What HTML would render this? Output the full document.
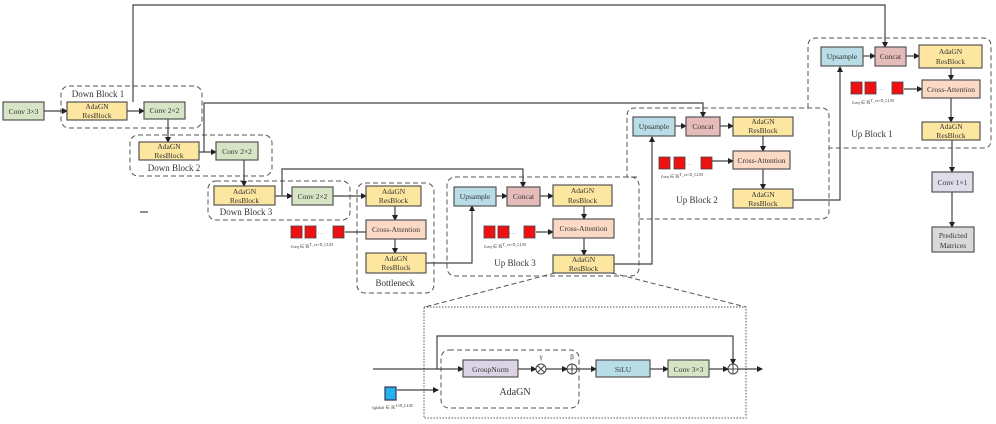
<!DOCTYPE html>
<html><head><meta charset="utf-8"><style>
html,body{margin:0;padding:0;background:#fff}
svg{display:block}
text{font-family:"Liberation Serif",serif;fill:#333}
</style></head><body>
<svg width="996" height="424" viewBox="0 0 996 424" xmlns="http://www.w3.org/2000/svg">
<defs>
<marker id="a" markerWidth="6" markerHeight="6" refX="5" refY="3" orient="auto" markerUnits="userSpaceOnUse"><path d="M0,0 L6,3 L0,6 z" fill="#222"/></marker>
</defs>
<g fill="none" stroke="#555" stroke-width="1" stroke-dasharray="5,3">
<rect x="61" y="86" width="141" height="42" rx="8"/>
<rect x="130" y="135" width="142" height="41" rx="8"/>
<rect x="208" y="181" width="142" height="39" rx="8"/>
<rect x="357" y="183" width="77" height="110" rx="8"/>
<rect x="447" y="177" width="192" height="99" rx="8"/>
<path d="M637,177 L627,177 L627,116 Q627,108 635,108 L821,108 Q829,108 829,116 L829,211 Q829,219 821,219 L639,219"/>
<path d="M808,108 L808,46 Q808,38 816,38 L983,38 Q991,38 991,46 L991,140 Q991,148 983,148 L829,148"/>
<rect x="441" y="350" width="138" height="58" rx="8"/>
<path d="M555,273 L425,307 M612,273 L746,307"/>
</g>
<rect x="424" y="307" width="322" height="111" fill="none" stroke="#555" stroke-dasharray="1.5,1.5"/>
<g stroke="#444" stroke-width="1.2" fill="none">
<path d="M44,111 L67,111" marker-end="url(#a)"/>
<path d="M127,111 L144,111" marker-end="url(#a)"/>
<path d="M133,102 L133,5 L885,5 L885,47" marker-end="url(#a)"/>
<path d="M168,119 L168,142" marker-end="url(#a)"/>
<path d="M199,152 L216,152" marker-end="url(#a)"/>
<path d="M204,152 L204,103 L703,103 L703,117" marker-end="url(#a)"/>
<path d="M244,160 L244,186" marker-end="url(#a)"/>
<path d="M275,196 L292,196" marker-end="url(#a)"/>
<path d="M282,196 L282,169 L523,169 L523,187" marker-end="url(#a)"/>
<path d="M333,196 L366,196" marker-end="url(#a)"/>
<path d="M395,206 L395,220" marker-end="url(#a)"/>
<path d="M345,232 L366,232"/>
<path d="M395,239 L395,253" marker-end="url(#a)"/>
<path d="M426,263 L472,263 L472,206" marker-end="url(#a)"/>
<path d="M496,196 L507,196" marker-end="url(#a)"/>
<path d="M540,196 L553,196" marker-end="url(#a)"/>
<path d="M584,206 L584,219" marker-end="url(#a)"/>
<path d="M536,232 L553,232" marker-end="url(#a)"/>
<path d="M584,238 L584,255" marker-end="url(#a)"/>
<path d="M614,264 L652,264 L652,137" marker-end="url(#a)"/>
<path d="M675,126 L686,126" marker-end="url(#a)"/>
<path d="M720,126 L733,126" marker-end="url(#a)"/>
<path d="M763,136 L763,151" marker-end="url(#a)"/>
<path d="M712,161 L733,161" marker-end="url(#a)"/>
<path d="M763,169 L763,189" marker-end="url(#a)"/>
<path d="M793,200 L840,200 L840,67" marker-end="url(#a)"/>
<path d="M863,56 L875,56" marker-end="url(#a)"/>
<path d="M906,56 L919,56" marker-end="url(#a)"/>
<path d="M951,68 L951,80" marker-end="url(#a)"/>
<path d="M904,89 L922,89" marker-end="url(#a)"/>
<path d="M951,98 L951,122" marker-end="url(#a)"/>
<path d="M952,140 L952,172" marker-end="url(#a)"/>
<path d="M952,192 L952,227" marker-end="url(#a)"/>
<path d="M373,369 L463,369" marker-end="url(#a)"/>
<path d="M437,369 L437,336 L733,336 L733,364" marker-end="url(#a)"/>
<path d="M518,369 L536,369" marker-end="url(#a)"/>
<path d="M546,369 L567,369" marker-end="url(#a)"/>
<path d="M577,369 L596,369" marker-end="url(#a)"/>
<path d="M650,369 L668,369" marker-end="url(#a)"/>
<path d="M709,369 L728,369" marker-end="url(#a)"/>
<path d="M738,369 L762,369" marker-end="url(#a)"/>
<path d="M397,390 L438,390" marker-end="url(#a)"/>
<path d="M140,212 L148,212"/>
</g>
<g stroke="#444" stroke-width="1" fill="#fff">
<circle cx="541" cy="369" r="5"/><path d="M537.5,365.5 L544.5,372.5 M544.5,365.5 L537.5,372.5"/>
<circle cx="572" cy="369" r="5"/><path d="M567,369 L577,369 M572,364 L572,374"/>
<circle cx="733" cy="369" r="5"/><path d="M728,369 L738,369 M733,364 L733,374"/>
</g>
<g stroke="#555" stroke-width="1.2" font-size="8">
<rect x="3" y="102" width="41" height="18" fill="#d7e4c5"/>
<rect x="67" y="102" width="60" height="18" fill="#fde6a0"/>
<rect x="144" y="102" width="41" height="17" fill="#d7e4c5"/>
<rect x="139" y="142" width="60" height="18" fill="#fde6a0"/>
<rect x="216" y="142" width="42" height="18" fill="#d7e4c5"/>
<rect x="214" y="186" width="61" height="19" fill="#fde6a0"/>
<rect x="292" y="187" width="41" height="18" fill="#d7e4c5"/>
<rect x="366" y="186" width="55" height="20" fill="#fde6a0"/>
<rect x="366" y="220" width="60" height="19" fill="#fcd9c4"/>
<rect x="366" y="253" width="60" height="20" fill="#fde6a0"/>
<rect x="454" y="187" width="42" height="19" fill="#b9dde7"/>
<rect x="507" y="187" width="33" height="19" fill="#e6bcbb"/>
<rect x="553" y="185" width="59" height="21" fill="#fde6a0"/>
<rect x="553" y="219" width="61" height="19" fill="#fcd9c4"/>
<rect x="553" y="255" width="61" height="18" fill="#fde6a0"/>
<rect x="633" y="117" width="42" height="19" fill="#b9dde7"/>
<rect x="686" y="117" width="34" height="19" fill="#e6bcbb"/>
<rect x="733" y="117" width="60" height="19" fill="#fde6a0"/>
<rect x="733" y="151" width="57" height="18" fill="#fcd9c4"/>
<rect x="733" y="189" width="60" height="19" fill="#fde6a0"/>
<rect x="821" y="47" width="42" height="19" fill="#b9dde7"/>
<rect x="875" y="47" width="31" height="19" fill="#e6bcbb"/>
<rect x="919" y="45" width="63" height="23" fill="#fde6a0"/>
<rect x="922" y="80" width="58" height="18" fill="#fcd9c4"/>
<rect x="922" y="122" width="58" height="18" fill="#fde6a0"/>
<rect x="932" y="172" width="41" height="20" fill="#e0dcea"/>
<rect x="932" y="227" width="42" height="25" fill="#d9d9d9"/>
<rect x="463" y="360" width="55" height="17" fill="#ddd3e6"/>
<rect x="596" y="360" width="54" height="17" fill="#b9dde7"/>
<rect x="668" y="360" width="41" height="17" fill="#d7e4c5"/>
<rect x="385" y="387" width="11" height="13" fill="#22b2ee" stroke="#335"/>
</g>
<g fill="#ee1111" stroke="#444" stroke-width="0.8">
<rect x="291" y="226" width="11" height="12"/><rect x="305" y="226" width="11" height="12"/><rect x="333" y="226" width="11" height="12"/>
<rect x="484" y="226" width="11" height="12"/><rect x="498" y="226" width="11" height="12"/><rect x="524" y="226" width="11" height="12"/>
<rect x="659" y="157" width="11" height="12"/><rect x="674" y="157" width="11" height="12"/><rect x="701" y="157" width="11" height="12"/>
<rect x="851" y="82" width="11" height="12"/><rect x="865" y="82" width="11" height="12"/><rect x="892" y="82" width="11" height="12"/>
</g>
<g font-size="7.5" text-anchor="middle">
<text x="23.5" y="114">Conv 3×3</text>
<text x="97" y="109">AdaGN</text><text x="97" y="118">ResBlock</text>
<text x="164.5" y="113">Conv 2×2</text>
<text x="169" y="149">AdaGN</text><text x="169" y="158">ResBlock</text>
<text x="237" y="154">Conv 2×2</text>
<text x="244.5" y="194">AdaGN</text><text x="244.5" y="203">ResBlock</text>
<text x="312.5" y="199">Conv 2×2</text>
<text x="393.5" y="194">AdaGN</text><text x="393.5" y="203">ResBlock</text>
<text x="396" y="232">Cross-Attention</text>
<text x="396" y="261">AdaGN</text><text x="396" y="270">ResBlock</text>
<text x="475" y="199">Upsample</text>
<text x="523.5" y="199">Concat</text>
<text x="582.5" y="193">AdaGN</text><text x="582.5" y="203">ResBlock</text>
<text x="583.5" y="231">Cross-Attention</text>
<text x="583.5" y="262">AdaGN</text><text x="583.5" y="271">ResBlock</text>
<text x="654" y="129">Upsample</text>
<text x="703" y="129">Concat</text>
<text x="763" y="124">AdaGN</text><text x="763" y="133">ResBlock</text>
<text x="761.5" y="163">Cross-Attention</text>
<text x="763" y="197">AdaGN</text><text x="763" y="206">ResBlock</text>
<text x="842" y="59">Upsample</text>
<text x="890.5" y="59">Concat</text>
<text x="950.5" y="54">AdaGN</text><text x="950.5" y="64">ResBlock</text>
<text x="951" y="92">Cross-Attention</text>
<text x="951" y="129">AdaGN</text><text x="951" y="138">ResBlock</text>
<text x="952.5" y="185">Conv 1×1</text>
<text x="953" y="238">Predicted</text><text x="953" y="248">Matrices</text>
<text x="490.5" y="372">GroupNorm</text>
<text x="623" y="372">SiLU</text>
<text x="688.5" y="372">Conv 3×3</text>
</g>
<g font-size="9" text-anchor="middle">
<text x="98" y="97">Down Block 1</text>
<text x="174" y="171">Down Block 2</text>
<text x="246" y="215">Down Block 3</text>
<text x="395" y="286">Bottleneck</text>
<text x="515" y="266">Up Block 3</text>
<text x="697" y="203">Up Block 2</text>
<text x="872" y="137">Up Block 1</text>
<text x="515" y="395" font-size="10">AdaGN</text>
<text x="541" y="359" font-size="7">γ</text>
<text x="572" y="359" font-size="7">β</text>
</g>
<g font-size="5" fill="#555">
<text x="318" y="234">. . .</text><text x="509" y="234">. . .</text><text x="686" y="165">. . .</text><text x="877" y="90">. . .</text>
<text x="291" y="248">c<tspan font-size="4">seq</tspan> ∈ ℝ<tspan font-size="4" dy="-2">T_cs×D_LLM</tspan></text>
<text x="484" y="248">c<tspan font-size="4">seq</tspan> ∈ ℝ<tspan font-size="4" dy="-2">T_cs×D_LLM</tspan></text>
<text x="661" y="178">c<tspan font-size="4">seq</tspan> ∈ ℝ<tspan font-size="4" dy="-2">T_cs×D_LLM</tspan></text>
<text x="852" y="104">c<tspan font-size="4">seq</tspan> ∈ ℝ<tspan font-size="4" dy="-2">T_cs×D_LLM</tspan></text>
<text x="372" y="409">c<tspan font-size="4">global</tspan> ∈ ℝ<tspan font-size="4" dy="-2">1×D_LLM</tspan></text>
</g>
</svg>
</body></html>
